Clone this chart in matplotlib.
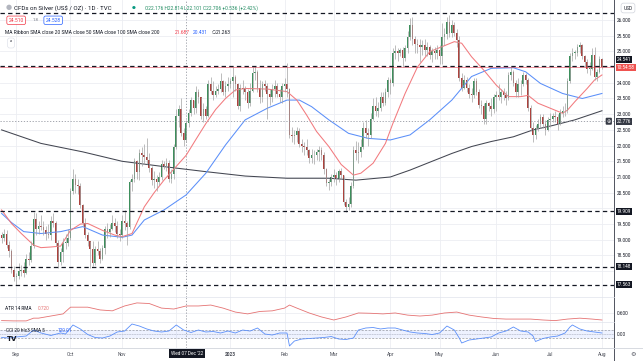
import numpy as np
import pandas as pd
import matplotlib
matplotlib.use('Agg')
from matplotlib import pyplot as plt
from matplotlib.transforms import blended_transform_factory

plt.rcParams['font.family'] = ['Roboto', 'DejaVu Sans']

# daily candles, TVC silver CFD, 24 Aug 2022 - 1 Aug 2023 (weekdays)
first_open = 19.15
closes = [
    19.05, 19.20, 18.85, 18.65, 18.05, 17.80,
    17.85, 18.00, 18.05, 17.95, 18.40, 18.35, 18.80, 19.65, 19.35, 19.45, 19.40, 19.30, 19.20, 19.15, 19.60, 19.55, 18.90, 18.30, 18.60, 18.90, 18.90, 19.05,
    20.55, 20.95, 20.75, 20.70, 20.10, 19.55, 19.15, 18.95, 18.70, 18.25, 18.70, 18.65, 18.40, 18.75, 19.35, 19.25, 19.35, 19.55, 19.45, 19.20, 19.15,
    19.60, 19.55, 19.40, 20.85, 20.95, 21.50, 21.15, 21.75, 21.70, 21.65, 21.55, 21.30, 20.90, 20.95, 20.85, 21.00, 21.40, 21.35, 21.45, 20.95, 21.10, 21.95,
    22.95, 23.15, 22.40, 22.18, 22.71, 23.05, 23.45, 23.20, 23.70, 23.55, 22.95, 23.15, 22.95, 23.95, 23.75, 23.60, 23.75, 23.80, 24.05, 23.70, 23.90, 23.95,
    24.05, 24.20, 23.95, 23.25, 23.85, 23.80, 23.70, 23.35, 23.75, 24.30, 24.35, 23.85, 23.55, 23.95, 23.90, 23.65, 23.55, 23.80, 23.90, 23.65, 23.55, 23.90,
    23.95, 23.80, 22.35, 22.30, 22.35, 22.45, 22.05, 22.00, 21.95, 21.85, 21.60, 21.70, 21.70, 21.80, 21.85, 21.70, 21.25, 20.80, 20.85, 21.00,
    21.05, 20.95, 21.20, 21.05, 20.20, 20.05, 20.15, 20.70, 21.85, 21.75, 21.80, 21.95, 22.55, 22.40, 22.35, 22.85, 23.25, 23.10, 23.20, 23.55, 23.35, 23.70, 24.10,
    24.00, 24.95, 25.00, 24.95, 25.05, 24.80, 25.10, 25.45, 25.85, 25.40, 25.25, 25.20, 25.15, 25.20, 25.05, 25.15, 24.90, 25.00, 24.95, 25.05,
    24.85, 25.45, 25.55, 25.95, 25.60, 25.85, 25.60, 25.35, 24.15, 23.85, 24.10, 23.85, 23.65, 23.60, 24.05, 23.70, 23.30, 23.25, 22.85, 23.35, 23.25, 23.15, 23.55,
    23.60, 23.55, 23.70, 23.60, 23.50, 24.25, 24.35, 24.00, 23.70, 23.95, 23.95, 24.25, 24.10, 23.20, 22.55, 22.35, 22.55, 22.70, 22.90, 22.70, 22.50, 22.80,
    22.85, 22.95, 22.90, 22.70, 23.05, 23.10, 23.10, 24.05, 24.85, 24.95, 24.95, 25.15, 25.20, 24.85, 24.65, 24.45, 24.45, 24.90, 24.20, 24.35, 24.75, 24.51,
]
highs = [
    19.25, 19.35, 19.30, 18.95, 18.70, 18.15,
    17.95, 18.25, 18.20, 18.30, 18.55, 18.60, 18.95, 19.90, 19.85, 19.60, 19.80, 19.60, 19.45, 19.50, 19.75, 19.85, 19.60, 19.00, 18.75, 19.05, 19.20, 19.35,
    20.65, 21.25, 21.10, 20.95, 20.80, 20.15, 19.70, 19.25, 18.95, 18.95, 18.80, 18.95, 18.75, 18.85, 19.45, 19.55, 19.50, 19.80, 19.70, 19.60, 19.35,
    19.80, 19.95, 19.60, 20.90, 21.10, 21.60, 21.55, 21.90, 21.95, 22.05, 22.25, 21.75, 21.35, 21.20, 21.05, 21.15, 21.55, 21.50, 21.60, 21.55, 21.25, 22.05,
    23.15, 23.30, 23.50, 22.55, 22.81, 23.15, 23.55, 23.45, 23.90, 23.80, 23.55, 23.35, 23.25, 24.10, 24.20, 24.05, 23.90, 23.95, 24.30, 24.10, 24.05, 24.20,
    24.15, 24.50, 24.25, 24.00, 23.95, 24.10, 23.90, 23.80, 24.00, 24.50, 24.55, 24.40, 24.10, 24.05, 24.10, 24.00, 23.80, 23.95, 24.10, 24.00, 23.80, 24.00,
    24.15, 24.63, 23.85, 22.60, 22.50, 22.60, 22.55, 22.20, 22.10, 22.20, 21.90, 21.90, 21.85, 21.90, 22.00, 21.95, 21.80, 21.30, 20.95, 21.10,
    21.25, 21.15, 21.25, 21.30, 21.05, 20.30, 20.35, 20.85, 22.00, 22.15, 22.10, 22.20, 22.75, 22.80, 22.55, 23.05, 23.50, 23.55, 23.40, 23.70, 23.70, 23.85, 24.20,
    24.15, 25.10, 25.20, 25.10, 25.10, 25.15, 25.20, 25.65, 26.05, 26.10, 25.50, 25.40, 25.40, 25.35, 25.40, 25.30, 25.20, 25.10, 25.15, 25.20,
    25.20, 25.90, 25.75, 26.10, 26.15, 26.00, 25.95, 25.70, 25.50, 24.30, 24.25, 24.20, 23.95, 23.85, 24.15, 24.15, 23.80, 23.45, 23.35, 23.45, 23.40, 23.50, 23.65,
    23.75, 23.95, 23.80, 23.85, 23.75, 24.35, 24.55, 24.40, 24.10, 24.15, 24.10, 24.35, 24.30, 24.15, 23.30, 22.75, 22.65, 22.85, 23.00, 23.00, 22.80, 22.90,
    23.05, 23.05, 23.10, 23.00, 23.15, 23.25, 23.35, 24.15, 24.95, 25.10, 25.05, 25.25, 25.30, 25.25, 24.90, 24.75, 24.65, 25.10, 25.15, 24.45, 24.85, 24.80,
]
lows = [
    18.90, 18.95, 18.75, 18.45, 17.95, 17.70,
    17.56, 17.75, 17.85, 17.80, 17.90, 18.20, 18.30, 18.75, 19.15, 19.20, 19.30, 19.15, 19.00, 19.05, 19.00, 19.40, 18.80, 18.10, 18.20, 18.30, 18.70, 18.80,
    19.00, 20.45, 20.50, 20.45, 20.00, 19.45, 19.05, 18.80, 18.10, 18.15, 18.20, 18.50, 18.25, 18.35, 18.55, 19.05, 19.10, 19.30, 19.25, 19.05, 18.95,
    19.05, 19.30, 18.85, 19.35, 20.55, 20.85, 20.95, 20.90, 21.35, 21.40, 21.40, 21.15, 20.75, 20.65, 20.55, 20.75, 20.90, 21.25, 21.20, 20.85, 20.80, 20.95,
    21.90, 22.60, 22.30, 22.00, 22.10, 22.60, 22.95, 23.00, 23.05, 23.35, 22.85, 22.75, 22.85, 22.90, 23.65, 23.45, 23.55, 23.65, 23.70, 23.60, 23.55, 23.75,
    23.85, 23.55, 23.75, 23.15, 23.10, 23.65, 23.45, 23.20, 23.25, 23.70, 24.10, 23.70, 23.35, 23.40, 23.75, 22.85, 23.30, 23.40, 23.55, 23.55, 23.40, 23.35,
    23.70, 23.55, 22.25, 22.10, 22.05, 22.10, 21.95, 21.80, 21.70, 21.70, 21.45, 21.45, 21.40, 21.55, 21.50, 21.55, 21.10, 20.70, 20.60, 20.70,
    20.85, 20.75, 20.85, 20.95, 20.10, 19.90, 19.95, 20.05, 20.65, 21.55, 21.45, 21.65, 21.90, 22.25, 22.00, 22.25, 22.80, 22.95, 22.90, 23.10, 23.25, 23.30, 23.55,
    23.65, 23.90, 24.75, 24.70, 24.85, 24.50, 24.70, 24.95, 25.35, 25.20, 24.95, 24.95, 24.65, 24.90, 24.85, 24.85, 24.75, 24.65, 24.75, 24.75,
    24.60, 24.60, 25.20, 25.40, 25.45, 25.45, 25.50, 25.15, 24.05, 23.75, 23.80, 23.70, 23.50, 23.40, 23.50, 23.60, 23.20, 23.00, 22.70, 22.70, 23.10, 22.95, 23.05,
    23.10, 23.45, 23.35, 23.45, 23.30, 23.45, 24.10, 23.90, 23.55, 23.55, 23.60, 23.90, 23.95, 23.10, 22.45, 22.10, 22.20, 22.45, 22.55, 22.55, 22.35, 22.45,
    22.60, 22.75, 22.75, 22.50, 22.65, 22.90, 22.95, 23.05, 24.00, 24.70, 24.75, 24.85, 24.95, 24.75, 24.50, 24.30, 24.25, 24.40, 24.10, 24.05, 24.30, 24.45,
]

# moving averages (day index, value)
sma20_idx = [0, 4, 8, 13, 16, 20, 24, 28, 32, 35, 41, 46, 49, 53, 58, 62, 66, 70, 75, 79, 83, 87, 91, 95, 99, 108, 116, 120, 124, 128,
             133, 138, 143, 146, 151, 156, 159, 164, 169, 174, 179, 184, 187, 191, 196, 201, 206, 211, 214, 218, 223, 228, 230, 233, 238, 241, 244]
sma20_val = [19.95, 19.52, 19.20, 18.83, 18.75, 18.77, 18.80, 19.30, 19.50, 19.52, 19.30, 19.15, 19.10, 19.20, 20.05, 20.50, 20.90, 21.25, 21.69, 22.20,
             22.70, 23.15, 23.50, 23.77, 23.82, 23.80, 23.72, 23.45, 22.97, 22.45, 21.97, 21.40, 21.06, 21.12, 21.44, 22.07, 22.70, 23.66, 24.50, 24.99,
             25.15, 25.31, 25.26, 24.83, 24.40, 23.93, 23.56, 23.56, 23.60, 23.35, 23.19, 23.03, 23.13, 23.40, 23.82, 24.09, 24.25]
sma50_idx = [0, 4, 9, 16, 24, 33, 41, 49, 53, 58, 66, 75, 83, 91, 99, 108, 116, 121, 126, 133, 141, 149, 158, 166, 174, 183, 191, 199, 208,
             213, 219, 228, 236, 244]
sma50_val = [19.84, 19.55, 19.26, 19.20, 19.26, 19.42, 19.15, 19.08, 19.15, 19.63, 19.95, 20.43, 21.12, 22.02, 22.82, 23.19, 23.45, 23.45, 23.24,
             22.82, 22.39, 22.23, 22.18, 22.34, 22.82, 23.45, 24.20, 24.46, 24.48, 24.35, 23.98, 23.66, 23.50, 23.66]
sma200_idx = [0, 16, 33, 49, 66, 83, 99, 116, 133, 144, 158, 166, 174, 183, 191, 199, 208, 216, 224, 233, 244]
sma200_val = [22.50, 22.07, 21.80, 21.50, 21.33, 21.17, 21.03, 20.96, 20.96, 20.90, 21.00, 21.22, 21.47, 21.75, 21.97, 22.13, 22.28, 22.50, 22.64,
              22.82, 23.11]

atr_idx = [0, 5, 10, 13, 15, 20, 25, 28, 30, 35, 40, 45, 50, 55, 60, 65, 70, 75, 80, 85, 90, 95, 100, 105, 110, 115, 117, 120, 125, 130,
           135, 140, 145, 150, 155, 160, 165, 170, 175, 180, 185, 190, 195, 200, 205, 210, 215, 220, 225, 230, 235, 240, 244]
atr_val = [0.48, 0.475, 0.475, 0.52, 0.52, 0.555, 0.59, 0.70, 0.70, 0.70, 0.655, 0.64, 0.72, 0.77, 0.76, 0.685, 0.67, 0.72, 0.72, 0.735,
           0.685, 0.62, 0.59, 0.63, 0.64, 0.685, 0.735, 0.685, 0.605, 0.54, 0.49, 0.54, 0.605, 0.60, 0.59, 0.605, 0.57, 0.555, 0.57, 0.605,
           0.62, 0.57, 0.54, 0.515, 0.505, 0.505, 0.505, 0.49, 0.48, 0.505, 0.52, 0.505, 0.49]
cci_idx = [0, 3, 6, 10, 13, 16, 20, 24, 26, 29, 32, 35, 38, 41, 44, 47, 50, 53, 56, 59, 62, 65, 68, 71, 74, 77, 80, 83, 86, 89,
           92, 95, 98, 101, 104, 107, 110, 113, 116, 117, 119, 122, 125, 128, 131, 134, 137, 140, 143, 145, 148, 151, 154, 157, 160,
           163, 166, 169, 172, 175, 178, 181, 184, 186, 187, 190, 193, 196, 199, 202, 205, 208, 211, 214, 216, 217, 220, 223, 226, 229,
           231, 232, 235, 238, 241, 244]
cci_val = [-83, -95, -70, -48, 95, 25, -35, 25, 0, 215, 120, -12, -83, -95, -48, 48, 71, 238, 190, 120, 71, 48, 71, 215, 95, 36, 95, 48,
           60, 24, 71, 24, 95, 71, 143, 0, -24, 24, 24, -285, -167, -119, -107, -95, -83, -60, -119, -131, -95, 95, 143, 155, 120, 143,
           143, 95, 48, 24, 12, -12, 24, 190, 95, -95, -214, -143, -119, -95, -70, 24, 71, 167, 71, 48, -48, -178, -107, -70, -48, 24,
           167, 215, 120, 71, 48, 24]

levels = [26.21, 24.541, 19.909, 18.148, 17.563]
level_labels = ['24.541', '19.909', '18.148', '17.563']
month_labels = ['Sep', 'Oct', 'Nov', '', '2023', 'Feb', 'Mar', 'Apr', 'May', 'Jun', 'Jul', 'Aug']
price_ticks = [18.0, 18.5, 19.0, 19.5, 20.0, 20.5, 21.0, 21.5, 22.0, 22.5, 23.0, 23.5, 24.0, 24.5, 25.0, 25.5, 26.0]
hidden_ticks = [18.0, 20.0, 24.5]   # covered by the line labels
cross_idx = 75
cross_price = 22.776

W, H = 643, 361
def fx(px):
    return px / W
def fy(py):
    return 1 - py / H

days = pd.bdate_range('2022-08-24', periods=len(closes))
idx = np.arange(len(closes))
c = np.array(closes)
o = np.concatenate([[first_open], c[:-1]])
up = c >= o
month_idx = [i for i in range(1, len(days)) if days[i].month != days[i - 1].month]

fig = plt.figure(figsize=(W / 100, H / 100), dpi=100)
ax = fig.add_axes([0, fy(297), fx(614), 297 / H])
ax_atr = fig.add_axes([0, fy(322), fx(614), 25 / H])
ax_cci = fig.add_axes([0, fy(348), fx(614), 26 / H])

grid_c = '#eceef2'
for a in (ax, ax_atr, ax_cci):
    a.set_xlim(-0.65, 248.9)
    for s in a.spines.values():
        s.set_visible(False)
    a.set_xticks(month_idx)
    a.grid(True, color=grid_c, lw=0.6)
    a.set_axisbelow(True)
    a.yaxis.tick_right()
    a.tick_params(length=0, labelsize=3.4, labelcolor='#131722', pad=2.2)
    a.axvline(cross_idx, color='#9598a1', lw=0.6, ls=(0, (1.5, 2)))
    a.set_xticklabels([])

# main pane
ax.set_ylim(17.178, 26.637)
ax.set_yticks(price_ticks)
ax.set_yticklabels(['' if v in hidden_ticks else '%.3f' % v for v in price_ticks])

ax.plot(sma200_idx, sma200_val, color='#434651', lw=0.75)
ax.plot(sma50_idx, sma50_val, color='#5b8ff9', lw=0.75)
ax.plot(sma20_idx, sma20_val, color='#f27a7e', lw=0.75)

ax.vlines(idx, lows, highs, color='#a3a3a3', lw=0.5)
body = np.maximum(np.abs(c - o), 0.015)
ax.bar(idx, body, bottom=np.minimum(o, c), width=0.68,
       color=np.where(up, '#3d8f5c', '#ad423d'), lw=0)

ax.axhline(closes[-1], color='#f23645', lw=0.5, alpha=0.7)
for lv in levels:
    ax.axhline(lv, color='#131722', lw=0.9, dashes=(3.5, 2.6))
ax.axhline(cross_price, color='#9598a1', lw=0.6, ls=(0, (1.5, 2)))

tr = blended_transform_factory(ax.transAxes, ax.transData)
def box(y, s, fc, tc='white'):
    ax.text(1.0045, y, s, transform=tr, fontsize=3.4, color=tc, va='center', ha='left',
            bbox=dict(boxstyle='square,pad=0.22', fc=fc, ec='none'), zorder=10)

box(24.755, level_labels[0], '#131722')
box(24.49, '10:54:58', '#ef5350')
for s, lv in zip(level_labels[1:], levels[2:]):
    box(lv, s, '#131722')
box(cross_price, '%.3f' % cross_price, '#363a45')
ax.text(0.9915, cross_price, '⊕', transform=tr, fontsize=3.6, color='white', va='center', ha='center',
        bbox=dict(boxstyle='round,pad=0.2', fc='#363a45', ec='none'), zorder=10)

# ATR pane
ax_atr.set_ylim(0.457, 0.867)
ax_atr.set_yticks([0.6])
ax_atr.set_yticklabels(['0.600'])
ax_atr.plot(atr_idx, atr_val, color='#e57373', lw=0.6)

# CCI pane
ax_cci.set_ylim(-333, 286)
ax_cci.set_yticks([0])
ax_cci.set_yticklabels(['0.00'])
ax_cci.axhspan(-100, 100, color='#2962ff', alpha=0.08, lw=0)
for lv in (-100, 100):
    ax_cci.axhline(lv, color='#9598a1', lw=0.5, dashes=(3, 2))
ax_cci.axhline(0, color='#9598a1', lw=0.4, ls=(0, (1, 2)))
ax_cci.plot(cci_idx, cci_val, color='#5b8ff9', lw=0.6)
ax_cci.set_xticklabels(month_labels)
ax_cci.tick_params(axis='x', labelsize=3.4, labelcolor='#4a4d57', pad=2.6)
ax_cci.get_xticklabels()[4].set_fontweight('bold')

# frame lines
fig.add_artist(plt.Line2D([fx(614), fx(614)], [0, 1], color='#50535e', lw=0.7))
fig.add_artist(plt.Line2D([0, 1], [fy(348), fy(348)], color='#d1d4dc', lw=0.6))
fig.add_artist(plt.Line2D([0, fx(614)], [fy(297), fy(297)], color='#e0e3eb', lw=0.5))
fig.add_artist(plt.Line2D([0, fx(614)], [fy(322), fy(322)], color='#e0e3eb', lw=0.5))

# crosshair date label
fig.text(fx(186.9), fy(353.5), "Wed 07 Dec '22", fontsize=3.4, color='white', ha='center', va='center',
         bbox=dict(boxstyle='square,pad=0.45', fc='#131722', ec='none'))

# header
fig.text(fx(9), fy(8), '●', fontsize=5, color='#b2b5be', ha='center', va='center')
fig.text(fx(14.4), fy(8), 'CFDs on Silver (US$ / OZ) · 1D · TVC', fontsize=4.4, color='#131722', va='center')
fig.text(fx(133.5), fy(8), '●', fontsize=3.2, color='#089981', ha='center', va='center')
fig.text(fx(144.6), fy(8.3), 'O22.176 H22.814 L22.101 C22.706 +0.536 (+2.42%)', fontsize=3.5, color='#1e8a5f', va='center')
fig.text(fx(16.2), fy(20.3), '24.510', fontsize=3.6, color='#f23645', ha='center', va='center',
         bbox=dict(boxstyle='round,pad=0.35', fc='white', ec='#f23645', lw=0.5))
fig.text(fx(35.5), fy(20.3), '1.8', fontsize=3.2, color='#787b86', ha='center', va='center')
fig.text(fx(53.2), fy(20.3), '24.528', fontsize=3.6, color='#2962ff', ha='center', va='center',
         bbox=dict(boxstyle='round,pad=0.35', fc='white', ec='#2962ff', lw=0.5))
fig.text(fx(5), fy(32), 'MA Ribbon SMA close 20 SMA close 50 SMA close 100 SMA close 200', fontsize=3.5,
         color='#131722', va='center')
fig.text(fx(174.5), fy(32), '21.687', fontsize=3.5, color='#f23645', va='center')
fig.text(fx(193), fy(32), '20.431', fontsize=3.5, color='#2962ff', va='center')
fig.text(fx(212), fy(32), '∅', fontsize=3.5, color='#131722', va='center')
fig.text(fx(215.6), fy(32), '21.263', fontsize=3.5, color='#131722', va='center')
fig.text(fx(11), fy(43), '^', fontsize=3.6, color='#131722', ha='center', va='center',
         bbox=dict(boxstyle='round,pad=0.5', fc='white', ec='#e0e3eb', lw=0.5))
fig.text(fx(628), fy(8), 'USD', fontsize=3.4, color='#131722', ha='center', va='center',
         bbox=dict(boxstyle='round,pad=0.5', fc='white', ec='#d1d4dc', lw=0.5))

fig.text(fx(5), fy(309), 'ATR 14 RMA', fontsize=3.4, color='#131722', va='center')
fig.text(fx(38), fy(309), '0.720', fontsize=3.4, color='#e57373', va='center')
fig.text(fx(6), fy(331), 'CCI 20 hlc3 SMA 5', fontsize=3.4, color='#131722', va='center')
fig.text(fx(57.5), fy(331), '120.01', fontsize=3.4, color='#2962ff', va='center')
fig.text(fx(12), fy(339), 'TV', fontsize=5, color='#131722', fontweight='bold', ha='center', va='center',
         family='DejaVu Sans')
fig.text(fx(633), fy(354), '⚙', fontsize=4.5, color='#50535e', ha='center', va='center', family='DejaVu Sans')

fig.savefig('out.png', dpi=100)
